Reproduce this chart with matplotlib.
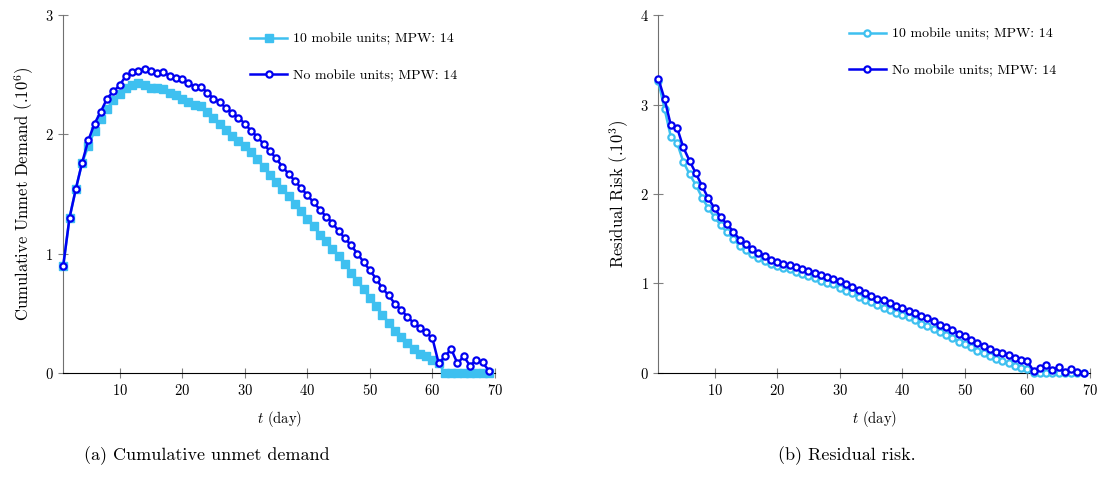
import matplotlib
matplotlib.use("Agg")
import matplotlib.pyplot as plt

# days 1..69
days = list(range(1, 70))

# (a) cumulative unmet demand, x 1e6
demand_mobile = [0.90, 1.30, 1.54, 1.76, 1.90, 2.03, 2.13, 2.21, 2.29, 2.34,
                 2.39, 2.41, 2.43, 2.41, 2.39, 2.39, 2.38, 2.35, 2.33, 2.30,
                 2.27, 2.25, 2.24, 2.19, 2.14, 2.09, 2.04, 1.99, 1.94, 1.90,
                 1.85, 1.79, 1.73, 1.66, 1.60, 1.54, 1.48, 1.42, 1.36, 1.29,
                 1.23, 1.16, 1.11, 1.04, 0.98, 0.91, 0.84, 0.77, 0.70, 0.63,
                 0.56, 0.49, 0.42, 0.35, 0.30, 0.25, 0.20, 0.16, 0.14, 0.11,
                 0.08, 0.0, 0.0, 0.0, 0.0, 0.0, 0.0, 0.0, 0.0]
demand_none = [0.90, 1.30, 1.54, 1.76, 1.95, 2.09, 2.19, 2.30, 2.36, 2.41,
               2.49, 2.52, 2.53, 2.55, 2.53, 2.51, 2.52, 2.49, 2.47, 2.46,
               2.43, 2.40, 2.40, 2.35, 2.30, 2.27, 2.22, 2.18, 2.14, 2.09,
               2.03, 1.98, 1.92, 1.86, 1.80, 1.73, 1.67, 1.61, 1.55, 1.49,
               1.43, 1.37, 1.31, 1.26, 1.19, 1.13, 1.07, 1.00, 0.93, 0.86,
               0.79, 0.71, 0.65, 0.58, 0.53, 0.47, 0.42, 0.38, 0.34, 0.29,
               0.08, 0.14, 0.20, 0.08, 0.14, 0.06, 0.11, 0.09, 0.02]

# (b) residual risk, x 1e3
risk_mobile = [3.26, 2.95, 2.64, 2.57, 2.36, 2.22, 2.10, 1.96, 1.84, 1.74,
               1.65, 1.57, 1.50, 1.42, 1.37, 1.33, 1.29, 1.25, 1.22, 1.20,
               1.17, 1.16, 1.13, 1.11, 1.08, 1.06, 1.03, 1.01, 0.99, 0.95,
               0.92, 0.89, 0.85, 0.82, 0.79, 0.76, 0.73, 0.70, 0.67, 0.65,
               0.62, 0.59, 0.55, 0.52, 0.49, 0.46, 0.42, 0.39, 0.35, 0.32,
               0.29, 0.25, 0.22, 0.19, 0.16, 0.13, 0.11, 0.08, 0.06, 0.04,
               0.0, 0.0, 0.0, 0.0, 0.0, 0.0, 0.0, 0.0, 0.0]
risk_none = [3.29, 3.06, 2.77, 2.74, 2.52, 2.37, 2.23, 2.09, 1.95, 1.84,
             1.74, 1.66, 1.58, 1.49, 1.44, 1.39, 1.34, 1.31, 1.26, 1.24,
             1.22, 1.21, 1.18, 1.16, 1.14, 1.12, 1.09, 1.07, 1.05, 1.03,
             0.99, 0.96, 0.93, 0.89, 0.86, 0.83, 0.81, 0.78, 0.75, 0.73,
             0.69, 0.67, 0.64, 0.61, 0.58, 0.54, 0.51, 0.48, 0.44, 0.41,
             0.37, 0.34, 0.30, 0.27, 0.24, 0.22, 0.20, 0.17, 0.15, 0.13,
             0.02, 0.06, 0.09, 0.03, 0.07, 0.01, 0.04, 0.01, 0.00]

label_mobile = '10 mobile units; MPW: 14'
label_none = 'No mobile units; MPW: 14'
light = '#3ec0f0'
dark = '#0000f0'

plt.rcParams['font.family'] = 'cmr10'
plt.rcParams['mathtext.fontset'] = 'cm'
plt.rcParams['axes.unicode_minus'] = False
plt.rcParams['axes.formatter.use_mathtext'] = True

fig = plt.figure(figsize=(11.04, 4.78), dpi=100)
ax1 = fig.add_axes([0.0573, 0.2197, 0.3911, 0.7489])
ax2 = fig.add_axes([0.5963, 0.2197, 0.3910, 0.7489])


def style_axis(ax, ymax):
    ax.spines['top'].set_visible(False)
    ax.spines['right'].set_visible(False)
    ax.spines['left'].set_color('#707070')
    ax.spines['bottom'].set_color('black')
    ax.set_xlim(1, 70)
    ax.set_ylim(0, ymax)
    ax.set_xticks([10, 20, 30, 40, 50, 60, 70])
    ax.set_yticks(range(0, ymax + 1))
    ax.tick_params(direction='inout', length=7, width=0.8, color='#808080',
                   labelsize=10.5)
    ax.set_xlabel(r'$t$ (day)', fontsize=10.5, labelpad=8)


leg_kw = dict(loc='upper left', frameon=False, fontsize=10, labelspacing=1.7,
              handlelength=2.7, handletextpad=0.4, borderpad=0, borderaxespad=0)

# (a)
ax1.plot(days, demand_mobile, color=light, lw=1.8, marker='s', ms=5.8,
         mfc=light, mec=light, label=label_mobile, clip_on=False, zorder=3)
ax1.plot(days, demand_none, color=dark, lw=1.8, marker='o', ms=4.5,
         mfc='white', mec=dark, mew=1.6, label=label_none, clip_on=False, zorder=4)
style_axis(ax1, 3)
ax1.set_ylabel(r'Cumulative Unmet Demand (.10$^6$)', fontsize=12, labelpad=6)
ax1.legend(bbox_to_anchor=(0.432, 0.95), **leg_kw)

# (b)
ax2.plot(days, risk_mobile, color=light, lw=1.8, marker='o', ms=4.5,
         mfc='white', mec=light, mew=1.6, label=label_mobile, clip_on=False, zorder=3)
ax2.plot(days, risk_none, color=dark, lw=1.8, marker='o', ms=4.5,
         mfc='white', mec=dark, mew=1.6, label=label_none, clip_on=False, zorder=4)
style_axis(ax2, 4)
ax2.set_ylabel(r'Residual Risk (.10$^3$)', fontsize=12, labelpad=6)
ax2.legend(bbox_to_anchor=(0.441, 0.964), **leg_kw)

fig.text(0.1875, 0.027, '(a) Cumulative unmet demand', fontsize=13,
         ha='center', va='bottom')
fig.text(0.767, 0.027, '(b) Residual risk.', fontsize=13,
         ha='center', va='bottom')

fig.savefig('out.png', dpi=100)
